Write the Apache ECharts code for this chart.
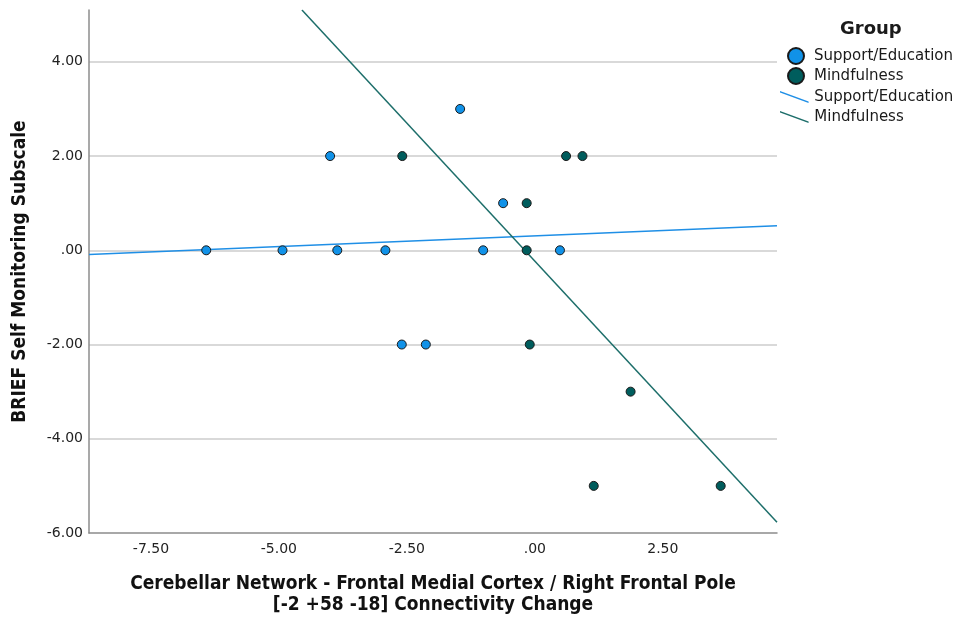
<!DOCTYPE html>
<html><head><meta charset="utf-8">
<script src="https://cdn.jsdelivr.net/npm/echarts@6.0.0/dist/echarts.min.js"></script>
<style>html,body{margin:0;padding:0;background:#fff}#c{width:964px;height:618px}</style>
</head><body><div id="c"></div>
<script>
// ---- data ----
const groups = ['Support/Education', 'Mindfulness'];
const supportX = [-6.42, -4.93, -3.86, -2.92, -4.00, -1.46, -2.60, -2.13, -0.62, -1.01, 0.49];
const supportY = [0, 0, 0, 0, 2, 3, -2, -2, 1, 0, 0];
const mindX = [-2.59, 0.61, 0.93, -0.16, -0.16, -0.10, 1.87, 1.15, 3.63];
const mindY = [2, 2, 2, 1, 0, -2, -3, -5, -5];
const supportFitX = [-8.71, 4.73];
const supportFitY = [-0.09, 0.52];
const mindFitX = [-4.55, 4.73];
const mindFitY = [5.1, -5.77];
const xTicks = [-7.5, -5, -2.5, 0, 2.5];
const yTicks = [-6, -4, -2, 0, 2, 4];

const pointColors = ['#1192e8', '#005d5d'];
const lineColors = ['#1f8fe6', '#1d6e6a'];
const zip = (xs, ys) => xs.map((x, i) => [x, ys[i]]);
const fmt = v => Math.abs(v) < 1e-9 ? '.00' : v.toFixed(2);
const FONT = 'DejaVu Sans';
const TFONT = '"DejaVu Sans Condensed", "Liberation Sans Narrow", "DejaVu Sans", sans-serif';

const chart = echarts.init(document.getElementById('c'), null, {renderer: 'canvas'});
chart.setOption({
  animation: false,
  backgroundColor: '#ffffff',
  title: {
    text: 'Group', left: 840, top: 20, padding: 0,
    textStyle: {fontSize: 18, fontWeight: 'bold', color: '#1a1a1a', fontFamily: FONT}
  },
  legend: [
    {
      orient: 'vertical', left: 787, top: 47, padding: 0, itemWidth: 26, itemHeight: 16, itemGap: 2,
      selectedMode: false,
      textStyle: {fontSize: 15, lineHeight: 16, color: '#1a1a1a', fontFamily: FONT},
      data: groups.map(n => ({name: n, icon: 'circle'}))
    },
    {
      orient: 'vertical', left: 780, top: 89, padding: 0, itemWidth: 30, itemHeight: 12, itemGap: 4,
      selectedMode: false,
      textStyle: {fontSize: 15, lineHeight: 16, color: '#1a1a1a', fontFamily: FONT},
      data: groups.map((n, i) => ({
        name: n, icon: 'path://M0,0L30,11L30,12.6L0,1.6Z',
        itemStyle: {color: lineColors[i], borderWidth: 0}
      }))
    }
  ],
  grid: {left: 89, right: 187, top: 10, bottom: 85, containLabel: false, outerBoundsMode: 'none'},
  xAxis: {
    type: 'value', min: -8.71, max: 4.73,
    name: 'Cerebellar Network - Frontal Medial Cortex / Right Frontal Pole\n[-2 +58 -18] Connectivity Change',
    nameLocation: 'middle', nameGap: 41,
    nameTextStyle: {fontSize: 19, fontWeight: 'bold', color: '#111', fontFamily: TFONT, lineHeight: 21},
    axisLine: {show: true, onZero: false, lineStyle: {color: '#8c8c8c', width: 1.5}},
    axisTick: {show: false},
    splitLine: {show: false},
    axisLabel: {customValues: xTicks, formatter: fmt, fontSize: 14, color: '#222', margin: 9, fontFamily: FONT}
  },
  yAxis: {
    type: 'value', min: -6, max: 5.1, interval: 2,
    name: 'BRIEF Self Monitoring Subscale',
    nameLocation: 'middle', nameGap: 59,
    nameTextStyle: {fontSize: 19, fontWeight: 'bold', color: '#111', fontFamily: TFONT, lineHeight: 20},
    axisLine: {show: true, onZero: false, lineStyle: {color: '#8c8c8c', width: 1.5}},
    axisTick: {show: false},
    splitLine: {show: true, showMinLine: false, showMaxLine: false, lineStyle: {color: '#cdcdcd', width: 1.5}},
    axisLabel: {customValues: yTicks, formatter: fmt, fontSize: 14, color: '#222', margin: 6, fontFamily: FONT}
  },
  series: [
    {
      name: groups[0], type: 'scatter', z: 4, symbol: 'circle', symbolSize: 9,
      itemStyle: {color: pointColors[0], borderColor: '#1a1a1a', borderWidth: 1, opacity: 1},
      data: zip(supportX, supportY)
    },
    {
      name: groups[1], type: 'scatter', z: 4, symbol: 'circle', symbolSize: 9,
      itemStyle: {color: pointColors[1], borderColor: '#1a1a1a', borderWidth: 1, opacity: 1},
      data: zip(mindX, mindY)
    },
    {
      name: groups[0], type: 'line', z: 3, showSymbol: false, symbol: 'none', silent: true, clip: true,
      lineStyle: {color: lineColors[0], width: 1.5},
      itemStyle: {color: lineColors[0]},
      data: zip(supportFitX, supportFitY)
    },
    {
      name: groups[1], type: 'line', z: 3, showSymbol: false, symbol: 'none', silent: true, clip: true,
      lineStyle: {color: lineColors[1], width: 1.5},
      itemStyle: {color: lineColors[1]},
      data: zip(mindFitX, mindFitY)
    }
  ]
});
</script>
</body></html>
